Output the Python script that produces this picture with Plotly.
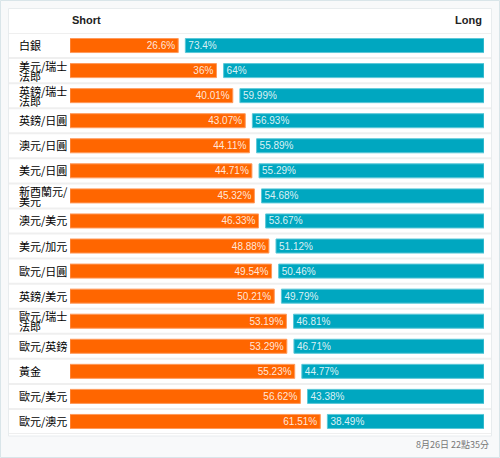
import plotly.graph_objects as go

pairs = ["白銀", "美元/瑞士\n法郎", "英鎊/瑞士\n法郎", "英鎊/日圓", "澳元/日圓", "美元/日圓",
         "新西蘭元/\n美元", "澳元/美元", "美元/加元", "歐元/日圓", "英鎊/美元", "歐元/瑞士\n法郎",
         "歐元/英鎊", "黃金", "歐元/美元", "歐元/澳元"]
short_pct = [26.6, 36, 40.01, 43.07, 44.11, 44.71, 45.32, 46.33, 48.88, 49.54, 50.21, 53.19,
             53.29, 55.23, 56.62, 61.51]
long_pct = [73.4, 64, 59.99, 56.93, 55.89, 55.29, 54.68, 53.67, 51.12, 50.46, 49.79, 46.81,
            46.71, 44.77, 43.38, 38.49]
header_short = "Short"
header_long = "Long"
footer_text = "8月26日 22點35分"

W, H = 500, 458
ML, MR, MT, MB = 70, 16, 33, 24
PW, PH = W - ML - MR, H - MT - MB
GAP = 1.75  # gap between the two bars, in axis units

ORANGE = "#ff6600"
TEAL = "#00a7c0"
n = len(pairs)
idx = list(range(n))

def px_x(p):
    return (p - ML) / PW

def px_y(p):
    return (H - MB - p) / PH

bar_font = dict(color="rgba(255,255,255,0.86)", size=10, family="Liberation Sans, Arial")

fig = go.Figure()
fig.add_trace(go.Bar(
    y=idx, x=short_pct, base=[0] * n, orientation="h", width=0.56,
    marker=dict(color=ORANGE, line=dict(color="#ff9a5c", width=1)),
    text=[f"{v:g}%" for v in short_pct], textposition="inside", insidetextanchor="end",
    constraintext="none", textfont=bar_font, hoverinfo="skip", cliponaxis=False,
))
fig.add_trace(go.Bar(
    y=idx, x=long_pct, base=[s + GAP for s in short_pct], orientation="h", width=0.56,
    marker=dict(color=TEAL, line=dict(color="#5cc8d8", width=1)),
    text=[f"{v:g}%" for v in long_pct], textposition="inside", insidetextanchor="start",
    constraintext="none", textfont=bar_font, hoverinfo="skip", cliponaxis=False,
))

shapes = []
shapes.append(dict(type="rect", xref="paper", yref="paper", x0=px_x(0.5), x1=px_x(W - 0.5),
                   y0=px_y(H - 0.5), y1=px_y(0.5), fillcolor="#f8f9fa",
                   line=dict(color="#d9e5e9", width=1), layer="below"))
shapes.append(dict(type="rect", xref="paper", yref="paper", x0=px_x(8.5), x1=px_x(491.5),
                   y0=px_y(436), y1=px_y(8.5), fillcolor="white",
                   line=dict(color="#e8ecee", width=1), layer="below"))
for i in range(n + 1):
    shapes.append(dict(type="line", xref="paper", yref="y", x0=px_x(9), x1=px_x(491),
                       y0=i - 0.5, y1=i - 0.5, line=dict(color="#efefef", width=2), layer="below"))

annotations = []
for i, name in enumerate(pairs):
    lines = name.split("\n")
    shifts = [0.5] if len(lines) == 1 else [5, -5]
    for ln, sh in zip(lines, shifts):
        annotations.append(dict(xref="paper", yref="y", x=px_x(17), y=i, text=ln,
                                xanchor="left", yanchor="middle", yshift=sh, showarrow=False,
                                font=dict(family="Noto Sans CJK TC", size=11, color="#000000")))
annotations.append(dict(xref="paper", yref="paper", x=0, y=px_y(20), text=f"<b>{header_short}</b>",
                        xanchor="left", yanchor="middle", showarrow=False,
                        font=dict(family="Liberation Sans, Arial", size=11, color="#222222")))
annotations.append(dict(xref="paper", yref="paper", x=1, y=px_y(20), text=f"<b>{header_long}</b>",
                        xanchor="right", yanchor="middle", showarrow=False,
                        font=dict(family="Liberation Sans, Arial", size=11, color="#222222")))
annotations.append(dict(xref="paper", yref="paper", x=px_x(491), y=px_y(444), text=footer_text,
                        xanchor="right", yanchor="middle", showarrow=False,
                        font=dict(family="Noto Sans CJK TC", size=9, color="#777777")))

fig.update_layout(
    width=W, height=H, margin=dict(l=ML, r=MR, t=MT, b=MB),
    paper_bgcolor="#f8f9fa", plot_bgcolor="rgba(0,0,0,0)",
    barmode="overlay", showlegend=False,
    xaxis=dict(range=[0, 100 + GAP], visible=False, fixedrange=True),
    yaxis=dict(range=[n - 0.5, -0.5], visible=False, fixedrange=True),
    shapes=shapes, annotations=annotations,
)
fig.write_html("out.html", config={"displayModeBar": False},
               post_script="document.body.style.margin='0';document.body.style.overflow='hidden';")
